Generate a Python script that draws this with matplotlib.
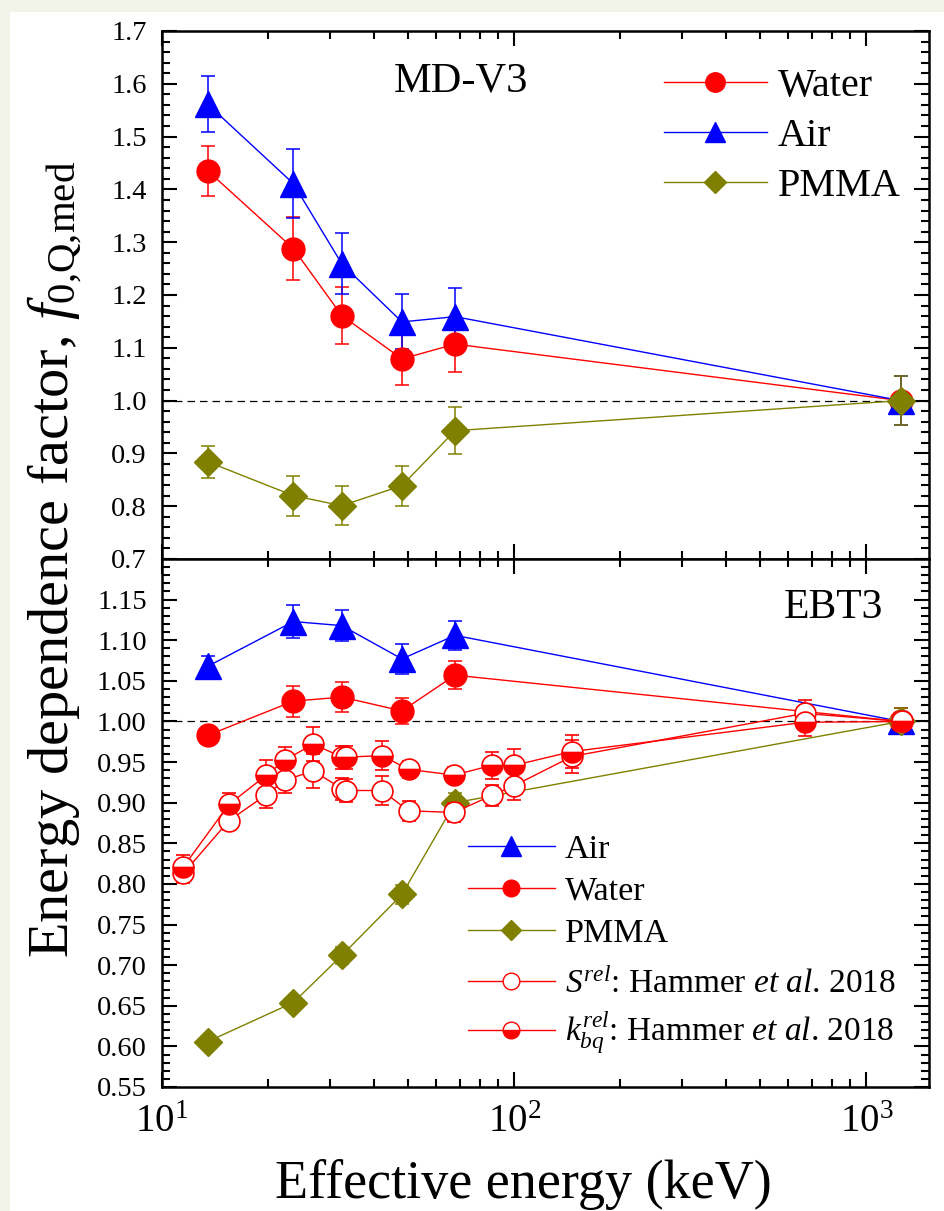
import matplotlib
matplotlib.use('Agg')
import matplotlib.pyplot as plt
from matplotlib.lines import Line2D
from matplotlib.patches import Rectangle
from matplotlib.ticker import MultipleLocator, FormatStrFormatter, LogLocator, NullFormatter, FixedLocator

plt.rcParams['font.family'] = ['Liberation Serif', 'DejaVu Serif']
plt.rcParams['mathtext.fontset'] = 'custom'
plt.rcParams['mathtext.rm'] = 'Liberation Serif'
plt.rcParams['mathtext.it'] = 'Liberation Serif:italic'
plt.rcParams['mathtext.bf'] = 'Liberation Serif:bold'

# ---------------- data ----------------
energy = [13.5, 23.6, 32.4, 48.0, 67.9, 1250]

# MD-V3 (top panel)
mdv3_water = [1.435, 1.288, 1.161, 1.079, 1.107, 1.000]
mdv3_water_err = [0.048, 0.060, 0.054, 0.050, 0.052, 0.047]
mdv3_air = [1.561, 1.411, 1.259, 1.149, 1.159, 1.000]
mdv3_air_err = [0.053, 0.066, 0.058, 0.052, 0.055, 0.047]
mdv3_pmma = [0.884, 0.820, 0.801, 0.839, 0.943, 1.000]
mdv3_pmma_err = [0.030, 0.038, 0.037, 0.038, 0.045, 0.047]

# EBT3 (bottom panel)
ebt3_air = [1.068, 1.123, 1.118, 1.077, 1.106, 1.000]
ebt3_air_err = [0.013, 0.020, 0.019, 0.018, 0.018, 0.016]
ebt3_water = [0.983, 1.025, 1.030, 1.013, 1.057, 1.000]
ebt3_water_err = [0.005, 0.019, 0.018, 0.016, 0.017, 0.016]
ebt3_pmma = [0.606, 0.654, 0.712, 0.787, 0.900, 1.000]
ebt3_pmma_err = [0.005, 0.006, 0.010, 0.012, 0.012, 0.016]

# Hammer et al. 2018
hammer_energy = [11.5, 15.5, 19.8, 22.4, 26.9, 32.5, 33.3, 42.1, 50.1, 67.5, 86.4, 100, 146, 667, 1262]
s_rel = [0.813, 0.878, 0.910, 0.928, 0.939, 0.917, 0.915, 0.915, 0.890, 0.888, 0.909, 0.921, 0.957, 1.010, 1.000]
s_rel_err = [0.012, 0.012, 0.017, 0.016, 0.021, 0.014, 0.014, 0.018, 0.012, 0.012, 0.013, 0.018, 0.020, 0.017, 0.0]
k_rel = [0.821, 0.898, 0.934, 0.953, 0.972, 0.956, 0.956, 0.958, 0.941, 0.934, 0.946, 0.946, 0.963, 0.999, 1.000]
k_rel_err = [0.015, 0.014, 0.018, 0.016, 0.021, 0.014, 0.014, 0.018, 0.010, 0.010, 0.017, 0.020, 0.020, 0.017, 0.0]

RED = '#ff0000'
BLUE = '#0000ff'
OLIVE = '#808000'

W, H = 944, 1211
fig = plt.figure(figsize=(W / 100, H / 100), dpi=100)
fig.patch.set_facecolor('white')
# pale slide border
fig.patches.append(Rectangle((0, 1 - 12 / H), 1, 12 / H, transform=fig.transFigure,
                             facecolor='#f2f4ea', edgecolor='none', zorder=-10))
fig.patches.append(Rectangle((0, 0), 10 / W, 1, transform=fig.transFigure,
                             facecolor='#f2f4ea', edgecolor='none', zorder=-10))

L, R = 162 / W, 928.5 / W
T, M, B = 1 - 31 / H, 1 - 559 / H, 1 - 1087 / H
ax1 = fig.add_axes([L, M, R - L, T - M])
ax2 = fig.add_axes([L, B, R - L, M - B])

eb = dict(capsize=4.7, elinewidth=1.1, capthick=1.1, lw=1.0)

# ---- top panel ----
ax1.errorbar(energy, mdv3_water, yerr=mdv3_water_err, color=RED, marker='o', ms=16.5,
             mec=RED, mfc=RED, **eb, zorder=3)
ax1.errorbar(energy, mdv3_air, yerr=mdv3_air_err, color=BLUE, marker='^', ms=19,
             mec=BLUE, mfc=BLUE, **eb, zorder=3)
ax1.errorbar(energy, mdv3_pmma, yerr=mdv3_pmma_err, color=OLIVE, marker='D', ms=14,
             mec=OLIVE, mfc=OLIVE, **eb, zorder=3)
ax1.axhline(1.0, color='k', lw=0.9, ls=(0, (6, 4)), zorder=1)

# ---- bottom panel ----
ax2.errorbar(energy, ebt3_air, yerr=ebt3_air_err, color=BLUE, marker='^', ms=19,
             mec=BLUE, mfc=BLUE, **eb, zorder=3)
ax2.errorbar(energy, ebt3_water, yerr=ebt3_water_err, color=RED, marker='o', ms=16.5,
             mec=RED, mfc=RED, **eb, zorder=3)
ax2.errorbar(energy, ebt3_pmma, yerr=ebt3_pmma_err, color=OLIVE, marker='D', ms=14,
             mec=OLIVE, mfc=OLIVE, **eb, zorder=3)
ax2.errorbar(hammer_energy, s_rel, yerr=s_rel_err, color=RED, marker='o', ms=15,
             mec=RED, mfc='white', mew=1.2, **eb, zorder=4)
ax2.errorbar(hammer_energy, k_rel, yerr=k_rel_err, color=RED, marker='o', ms=15,
             mec=RED, mfc=RED, mfcalt='white', fillstyle='bottom', mew=1.2, **eb, zorder=4)
ax2.axhline(1.0, color='k', lw=0.9, ls=(0, (6, 4)), zorder=1)

# ---- axes formatting ----
for ax in (ax1, ax2):
    ax.set_xscale('log')
    ax.set_xlim(10, 1500)
    ax.xaxis.set_major_locator(LogLocator(base=10, numticks=10))
    ax.xaxis.set_minor_locator(LogLocator(base=10, subs=range(2, 10), numticks=20))
    ax.xaxis.set_minor_formatter(NullFormatter())
    ax.tick_params(which='both', direction='in', top=True, right=True, width=1.5)
    ax.tick_params(axis='y', labelsize=20.5, pad=11)
    ax.tick_params(axis='x', labelsize=28, pad=12)
    ax.tick_params(which='major', length=10.5)
    ax.tick_params(which='minor', length=6)
    for s in ax.spines.values():
        s.set_linewidth(1.8)

ax1.set_ylim(0.7, 1.7)
ax1.yaxis.set_major_locator(MultipleLocator(0.1))
ax1.yaxis.set_minor_locator(MultipleLocator(0.02))
ax1.yaxis.set_major_formatter(FormatStrFormatter('%.1f'))
ax1.tick_params(axis='x', labelbottom=False)

ax2.set_ylim(0.55, 1.2)
ax2.yaxis.set_major_locator(FixedLocator([0.55 + 0.05 * i for i in range(13)]))
ax2.yaxis.set_minor_locator(MultipleLocator(0.01))
ax2.yaxis.set_major_formatter(FormatStrFormatter('%.2f'))

# ---- annotations ----
ax1.text(461 / W, 1 - 81 / H, 'MD-V3', transform=fig.transFigure, fontsize=30.5,
         ha='center', va='center')
ax2.text(833 / W, 1 - 608 / H, 'EBT3', transform=fig.transFigure, fontsize=30,
         ha='center', va='center')

# ---- legends ----
h_top = [Line2D([], [], color=RED, marker='o', ms=14, lw=1.0),
         Line2D([], [], color=BLUE, marker='^', ms=15, lw=1.0),
         Line2D([], [], color=OLIVE, marker='D', ms=11.5, lw=1.0)]
ax1.legend(h_top, ['Water', 'Air', 'PMMA'], loc='upper left',
           bbox_to_anchor=(664 / W, 1 - 68 / H), bbox_transform=fig.transFigure,
           frameon=False, fontsize=29, handlelength=2.55, handletextpad=0.28,
           borderpad=0, borderaxespad=0, labelspacing=0.32, numpoints=1)

h_bot1 = [Line2D([], [], color=BLUE, marker='^', ms=14, lw=1.0),
          Line2D([], [], color=RED, marker='o', ms=12, lw=1.0),
          Line2D([], [], color=OLIVE, marker='D', ms=10.5, lw=1.0)]
leg1 = ax2.legend(h_bot1, ['Air', 'Water', 'PMMA'], loc='upper left',
                  bbox_to_anchor=(468 / W, 1 - 834 / H), bbox_transform=fig.transFigure,
                  frameon=False, fontsize=24.5, handlelength=2.55, handletextpad=0.3,
                  borderpad=0, borderaxespad=0, labelspacing=0.33, numpoints=1)
ax2.add_artist(leg1)

h_bot2 = [Line2D([], [], color=RED, marker='o', ms=12, lw=1.0, mfc='white', mec=RED),
          Line2D([], [], color=RED, marker='o', ms=12, lw=1.0, mfc=RED, mfcalt='white',
                 fillstyle='bottom', mec=RED)]
lab_bot2 = [r'$S^{rel}$: Hammer $et$ $al$. 2018',
            r'$k^{rel}_{bq}$: Hammer $et$ $al$. 2018']
ax2.legend(h_bot2, lab_bot2, loc='upper left',
           bbox_to_anchor=(468 / W, 1 - 968 / H), bbox_transform=fig.transFigure,
           frameon=False, fontsize=24, handlelength=2.6, handletextpad=0.3,
           borderpad=0, borderaxespad=0, labelspacing=0.28, numpoints=1)

# ---- axis labels ----
fig.text(523 / W, 1 - 1184 / H, 'Effective energy (keV)', fontsize=39,
         ha='center', va='center')
fig.text(55 / W, 1 - 560 / H, r'Energy dependence factor, $f_{\mathrm{0{,}Q{,}med}}$',
         fontsize=42, rotation=90, ha='center', va='center')

fig.savefig('out.png', dpi=100)
